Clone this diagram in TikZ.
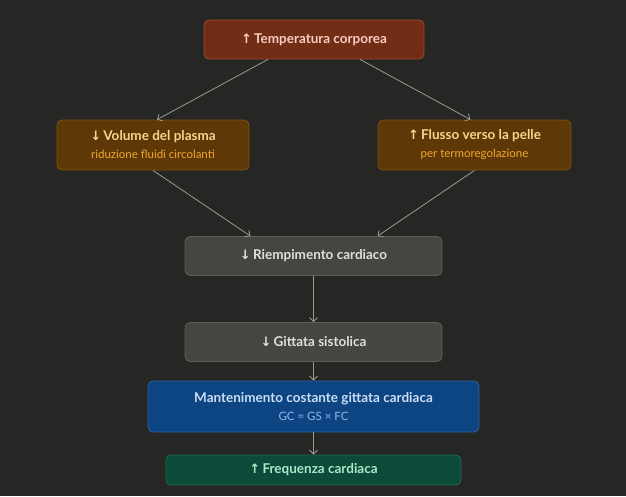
\documentclass[tikz,border=0pt]{standalone}
\usepackage{fontspec}
\setmainfont{Lato}
\newfontfamily\symf{DejaVu Sans}
\usetikzlibrary{arrows.meta}
\definecolor{bg}{HTML}{262624}
\definecolor{redfill}{HTML}{722D17}
\definecolor{reddraw}{HTML}{9A4A30}
\definecolor{redtext}{HTML}{F7CDBD}
\definecolor{brfill}{HTML}{5E3806}
\definecolor{brdraw}{HTML}{7D5412}
\definecolor{brtext}{HTML}{F8D48E}
\definecolor{brsub}{HTML}{F0A832}
\definecolor{grfill}{HTML}{454541}
\definecolor{grdraw}{HTML}{5E5E58}
\definecolor{grtext}{HTML}{E2DFD6}
\definecolor{blfill}{HTML}{0D4582}
\definecolor{bldraw}{HTML}{2C619C}
\definecolor{bltext}{HTML}{CADDF5}
\definecolor{blsub}{HTML}{8CB9EC}
\definecolor{gnfill}{HTML}{0C4A3A}
\definecolor{gndraw}{HTML}{1D6B52}
\definecolor{gntext}{HTML}{A8EAC6}
\definecolor{edge}{HTML}{9A9A94}
\tikzset{
  box/.style={rounded corners=5pt, line width=0.8pt, inner sep=0pt, align=center, font=\fontsize{13.5}{16}\selectfont},
  redbox/.style={box, fill=redfill, draw=reddraw, text=redtext},
  brbox/.style={box, fill=brfill, draw=brdraw, text=brtext},
  grbox/.style={box, fill=grfill, draw=grdraw, text=grtext},
  blbox/.style={box, fill=blfill, draw=bldraw, text=bltext},
  gnbox/.style={box, fill=gnfill, draw=gndraw, text=gntext},
  conn/.style={draw=edge, line width=0.8pt, -{Straight Barb[length=4pt,width=8pt]}}
}
\newcommand{\subf}{\fontsize{11.5}{13}\selectfont}
\newcommand{\upa}{{\symf\bfseries\fontsize{13}{14}\selectfont ↑}\,}
\newcommand{\dna}{{\symf\bfseries\fontsize{13}{14}\selectfont ↓}\,}
\begin{document}
\begin{tikzpicture}[x=1pt,y=-1pt]
\fill[bg] (0,0) rectangle (626,496);
\useasboundingbox (0,0) rectangle (626,496);

\node[redbox, minimum width=220pt, minimum height=39pt] (temp) at (314,39.5) {\textbf{\upa Temperatura corporea}};

\node[brbox, minimum width=192pt, minimum height=50pt] (vol) at (153,145) {\textbf{\dna Volume del plasma}\\[2pt]{\subf\color{brsub} riduzione fluidi circolanti}};
\node[brbox, minimum width=193pt, minimum height=50pt] (flu) at (474.5,145) {\textbf{\upa Flusso verso la pelle}\\[2pt]{\subf\color{brsub} per termoregolazione}};

\node[grbox, minimum width=257pt, minimum height=39pt] (riem) at (313.5,256) {\textbf{\dna Riempimento cardiaco}};
\node[grbox, minimum width=257pt, minimum height=39pt] (gitt) at (313.5,342) {\textbf{\dna Gittata sistolica}};

\node[blbox, minimum width=331pt, minimum height=51pt] (mant) at (313.5,406.5) {\textbf{Mantenimento costante gittata cardiaca}\\[2pt]{\subf\color{blsub} GC = GS × FC}};

\node[gnbox, minimum width=295pt, minimum height=30pt] (freq) at (313.5,470) {\textbf{\upa Frequenza cardiaca}};

\draw[conn] ([xshift=-46pt]temp.south) -- ([xshift=4pt]vol.north);
\draw[conn] ([xshift=46pt]temp.south) -- ([xshift=-4pt]flu.north);
\draw[conn] (vol.south) -- ([xshift=-63pt]riem.north);
\draw[conn] (flu.south) -- ([xshift=64pt]riem.north);
\draw[conn] (riem) -- (gitt);
\draw[conn] (gitt) -- (mant);
\draw[conn] (mant) -- (freq);
\end{tikzpicture}
\end{document}
